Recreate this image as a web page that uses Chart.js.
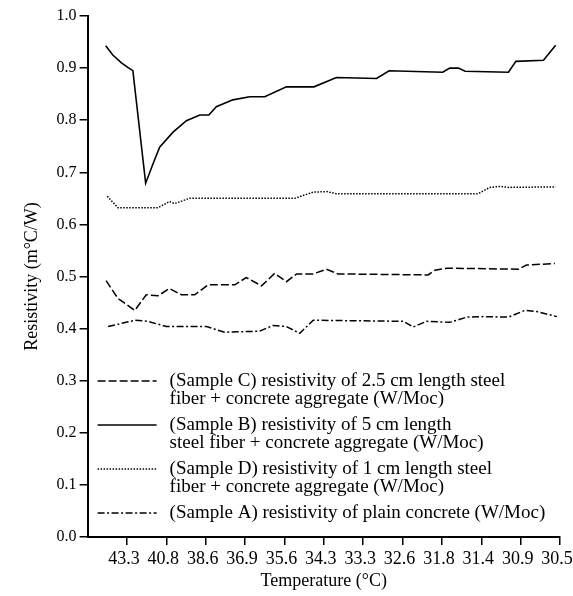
<!DOCTYPE html>
<html>
<head>
<meta charset="utf-8">
<script src="https://cdn.jsdelivr.net/npm/chart.js@4"></script>
<style>
  body { margin: 0; background: #fff; }
  #wrap { width: 573px; height: 596px; }
</style>
</head>
<body>
<div id="wrap"><canvas id="chart"></canvas></div>
<script>
// tick labels along the temperature axis (positions 1..12)
let tempLabels = ["43.3", "40.8", "38.6", "36.9", "35.6", "34.3", "33.3", "32.6", "31.8", "31.4", "30.9", "30.5"];

// Sample C - 2.5 cm steel fiber (dashed)
let xC = [0.47, 0.77, 1.20, 1.49, 1.79, 2.08, 2.38, 2.72, 3.06, 3.74, 4.03, 4.42, 4.75, 5.05, 5.31, 5.73, 6.07, 6.36, 8.65, 8.82, 9.12, 10.94, 11.15, 11.87];
let yC = [0.492, 0.458, 0.435, 0.465, 0.463, 0.477, 0.465, 0.465, 0.484, 0.484, 0.498, 0.482, 0.506, 0.490, 0.505, 0.505, 0.514, 0.505, 0.503, 0.512, 0.516, 0.514, 0.522, 0.525];

// Sample B - 5 cm steel fiber (solid)
let xB = [0.46, 0.64, 0.86, 1.03, 1.15, 1.475, 1.66, 1.83, 2.17, 2.51, 2.85, 3.08, 3.27, 3.69, 4.12, 4.50, 5.05, 5.75, 6.32, 7.34, 7.66, 9.02, 9.20, 9.42, 9.59, 10.69, 10.88, 11.58, 11.89];
let yB = [0.943, 0.925, 0.910, 0.901, 0.895, 0.679, 0.716, 0.748, 0.777, 0.799, 0.810, 0.810, 0.826, 0.839, 0.845, 0.845, 0.864, 0.864, 0.882, 0.880, 0.895, 0.892, 0.900, 0.900, 0.894, 0.892, 0.913, 0.915, 0.944];

// Sample D - 1 cm steel fiber (dotted)
let xD = [0.50, 0.77, 1.79, 2.08, 2.21, 2.59, 5.26, 5.73, 6.07, 6.32, 9.92, 10.22, 10.48, 10.70, 11.89];
let yD = [0.654, 0.632, 0.632, 0.644, 0.640, 0.650, 0.650, 0.662, 0.663, 0.659, 0.659, 0.671, 0.673, 0.671, 0.672];

// Sample A - plain concrete (dash-dot)
let xA = [0.52, 1.20, 1.53, 2.00, 3.02, 3.48, 4.37, 4.71, 5.05, 5.39, 5.73, 8.02, 8.27, 8.61, 9.20, 9.63, 10.05, 10.69, 11.11, 11.40, 11.92];
let yA = [0.404, 0.416, 0.414, 0.404, 0.404, 0.393, 0.395, 0.406, 0.404, 0.391, 0.416, 0.414, 0.403, 0.414, 0.412, 0.422, 0.423, 0.422, 0.435, 0.433, 0.423];

let legendC = ["(Sample C) resistivity of 2.5 cm length steel", "fiber + concrete aggregate (W/Moc)"];
let legendB = ["(Sample B) resistivity of 5 cm length", "steel fiber + concrete aggregate (W/Moc)"];
let legendD = ["(Sample D) resistivity of 1 cm length steel", "fiber + concrete aggregate (W/Moc)"];
let legendA = ["(Sample A) resistivity of plain concrete (W/Moc)"];

const FONT = "'Liberation Serif', 'Times New Roman', serif";

function pts(xs, ys) {
  return xs.map((x, i) => ({ x: x, y: ys[i] }));
}

function makeSet(xs, ys, lines, dash, width) {
  return {
    label: lines.join(" "),
    legendLines: lines,
    data: pts(xs, ys),
    borderColor: "#000",
    borderWidth: width,
    borderDash: dash,
    pointRadius: 0,
    tension: 0,
    fill: false
  };
}

// **Legend drawn inside the plot, multi-line entries**
const boxLegend = {
  id: "boxLegend",
  afterDraw(chart) {
    let ctx = chart.ctx;
    let area = chart.chartArea;
    let x0 = area.left + 10;
    let y = area.top + 365;
    ctx.save();
    ctx.font = "19px " + FONT;
    ctx.fillStyle = "#000";
    ctx.textBaseline = "middle";
    chart.data.datasets.forEach(ds => {
      ctx.strokeStyle = "#000";
      ctx.lineWidth = ds.borderWidth;
      ctx.setLineDash(ds.borderDash || []);
      ctx.beginPath();
      ctx.moveTo(x0, y);
      ctx.lineTo(x0 + 59, y);
      ctx.stroke();
      ctx.setLineDash([]);
      ds.legendLines.forEach((t, i) => {
        ctx.fillText(t, x0 + 72, y + i * 18);
      });
      y += ds.legendLines.length * 18 + 8;
    });
    ctx.restore();
  }
};

new Chart(document.getElementById("chart"), {
  type: "line",
  data: {
    datasets: [
      makeSet(xC, yC, legendC, [8, 3], 1.5),
      makeSet(xB, yB, legendB, [], 1.6),
      makeSet(xD, yD, legendD, [1.5, 1.5], 1.5),
      makeSet(xA, yA, legendA, [7, 2.5, 2, 2.5], 1.5)
    ]
  },
  options: {
    responsive: true,
    maintainAspectRatio: false,
    animation: false,
    layout: { padding: { top: 16, left: 17, right: 0, bottom: 6 } },
    plugins: { legend: { display: false }, tooltip: { enabled: false } },
    scales: {
      x: {
        type: "linear",
        min: 0,
        max: 12,
        afterBuildTicks: s => { s.ticks = s.ticks.filter(t => t.value >= 1); },
        afterFit: s => { s.paddingRight = 13; },
        ticks: {
          stepSize: 1,
          autoSkip: false,
          maxRotation: 0,
          color: "#000",
          font: { family: FONT, size: 18, lineHeight: 1 },
          padding: 5,
          labelOffset: -3,
          callback: v => tempLabels[v - 1] || ""
        },
        grid: { drawOnChartArea: false, drawTicks: true, tickLength: 8, color: "#000", lineWidth: 1.5 },
        border: { display: true, color: "#000", width: 2 },
        title: { display: true, text: "Temperature (°C)", color: "#000", font: { family: FONT, size: 18, lineHeight: 1 }, padding: { top: -1, bottom: 0 } }
      },
      y: {
        min: 0,
        max: 1,
        ticks: {
          stepSize: 0.1,
          color: "#000",
          font: { family: FONT, size: 16 },
          padding: 3,
          callback: v => v.toFixed(1)
        },
        grid: { drawOnChartArea: false, drawTicks: true, tickLength: 8, color: "#000", lineWidth: 1.5 },
        border: { display: true, color: "#000", width: 2 },
        title: { display: true, text: "Resistivity (m°C/W)", color: "#000", font: { family: FONT, size: 18 }, padding: { top: 4, bottom: 11 } }
      }
    }
  },
  plugins: [boxLegend]
});
</script>
</body>
</html>
